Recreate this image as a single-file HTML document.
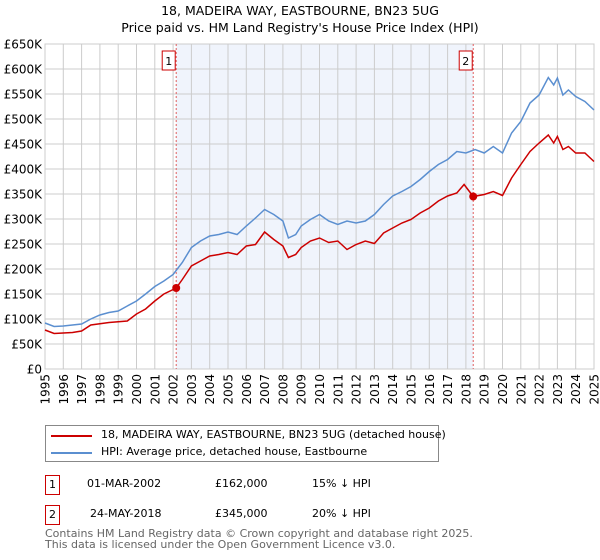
<!DOCTYPE html>
<html><head><meta charset="utf-8"><style>
body{margin:0;background:#fff;font-family:"DejaVu Sans","Liberation Sans",sans-serif;}
#wrap{position:relative;width:600px;height:560px;overflow:hidden;}
.t{position:absolute;white-space:nowrap;color:#000;}
</style></head><body>
<div id="wrap">
<svg id="chart" width="600" height="420" style="position:absolute;left:0;top:0">
<text x="300" y="15" text-anchor="middle" font-size="12.5">18, MADEIRA WAY, EASTBOURNE, BN23 5UG</text>
<text x="300" y="32" text-anchor="middle" font-size="12.5">Price paid vs. HM Land Registry's House Price Index (HPI)</text>
<g id="grid"></g><g id="series"></g><g id="axes"></g>
</svg>
<div class="t" style="left:45px;top:425px;width:392px;height:35px;border:1px solid #888;">
<div style="position:absolute;left:5px;top:9px;width:41px;height:2px;background:#cc0000"></div>
<div class="t" style="left:55px;top:2px;font-size:11px">18, MADEIRA WAY, EASTBOURNE, BN23 5UG (detached house)</div>
<div style="position:absolute;left:5px;top:26px;width:41px;height:2px;background:#5b8fd0"></div>
<div class="t" style="left:55px;top:19px;font-size:11px">HPI: Average price, detached house, Eastbourne</div>
</div>
<div class="t" style="left:45px;top:475px;width:13px;height:18px;border:1px solid #cc0000;font-size:11px;text-align:center;line-height:18px">1</div>
<div class="t" style="left:87px;top:477px;font-size:11px">01-MAR-2002</div>
<div class="t" style="left:215px;top:477px;font-size:11px">£162,000</div>
<div class="t" style="left:312px;top:477px;font-size:11px">15% ↓ HPI</div>
<div class="t" style="left:45px;top:505px;width:13px;height:18px;border:1px solid #cc0000;font-size:11px;text-align:center;line-height:18px">2</div>
<div class="t" style="left:90px;top:507px;font-size:11px">24-MAY-2018</div>
<div class="t" style="left:215px;top:507px;font-size:11px">£345,000</div>
<div class="t" style="left:312px;top:507px;font-size:11px">20% ↓ HPI</div>
<div class="t" style="left:45px;top:529px;font-size:11px;color:#666;line-height:10.5px">Contains HM Land Registry data © Crown copyright and database right 2025.<br>This data is licensed under the Open Government Licence v3.0.</div>
</div>
<script>
const hpiYears=[1995,1995.5,1996,1997,1997.5,1998,1998.5,1999,1999.5,2000,2000.5,2001,2001.5,2002,2002.5,2003,2003.5,2004,2004.5,2005,2005.5,2006,2006.5,2007,2007.5,2008,2008.3,2008.7,2009,2009.5,2010,2010.5,2011,2011.5,2012,2012.5,2013,2013.5,2014,2014.5,2015,2015.5,2016,2016.5,2017,2017.5,2018,2018.5,2019,2019.5,2020,2020.5,2021,2021.5,2022,2022.5,2022.8,2023,2023.3,2023.6,2024,2024.5,2025];
const hpiValues=[92,85,86,90,100,108,113,116,126,136,150,165,176,189,213,243,256,266,269,274,269,286,302,319,309,296,262,269,286,299,309,296,289,296,292,296,309,329,346,355,365,379,395,409,419,435,432,439,432,445,432,472,495,532,548,583,568,582,548,558,545,535,518];
const propYears=[1995,1995.5,1996.5,1997,1997.5,1998.5,1999.5,2000,2000.5,2001,2001.5,2002.17,2002.5,2003,2003.5,2004,2004.5,2005,2005.5,2006,2006.5,2007,2007.5,2008,2008.3,2008.7,2009,2009.5,2010,2010.5,2011,2011.5,2012,2012.5,2013,2013.5,2014,2014.5,2015,2015.5,2016,2016.5,2017,2017.5,2017.9,2018.4,2019,2019.5,2020,2020.5,2021,2021.5,2022,2022.5,2022.8,2023,2023.3,2023.6,2024,2024.5,2025];
const propValues=[78,71,73,76,88,93,96,110,120,136,150,162,179,206,216,226,229,233,229,246,249,274,259,246,223,229,243,256,262,253,256,239,249,256,251,272,282,292,299,312,322,336,346,352,369,345,349,355,347,382,409,435,452,468,452,465,439,445,432,432,415];
const saleYears=[2002.17,2018.4];
const saleValues=[162,345];
const saleLabels=["1","2"];
const yTicks=[0,50,100,150,200,250,300,350,400,450,500,550,600,650];
const xTicks=[1995,1996,1997,1998,1999,2000,2001,2002,2003,2004,2005,2006,2007,2008,2009,2010,2011,2012,2013,2014,2015,2016,2017,2018,2019,2020,2021,2022,2023,2024,2025];

const X0=45,X1=594,Y0=369,Y1=44;
const x=v=>X0+(v-1995)/30*(X1-X0);
const y=v=>Y0-v/650*(Y0-Y1);
const NS="http://www.w3.org/2000/svg";
function mk(tag,attrs,parent){const e=document.createElementNS(NS,tag);for(const k in attrs)e.setAttribute(k,attrs[k]);parent.appendChild(e);return e;}
const grid=document.getElementById('grid'),ser=document.getElementById('series'),ax=document.getElementById('axes');
const shade=mk('rect',{x:x(saleYears[0]),y:Y1,width:x(saleYears[1])-x(saleYears[0]),height:Y0-Y1,fill:'#f0f4fc'},grid);


yTicks.forEach(t=>{
 const l=mk('line',{x1:X0,x2:X1,y1:y(t),y2:y(t),stroke:'#cccccc','stroke-width':1},grid);
 
 
 const tx=mk('text',{x:X0-3,y:y(t)+4.5,'text-anchor':'end','font-size':12},ax);
 tx.textContent=t===0?'£0':'£'+t+'K';
 
 
});
xTicks.forEach(t=>{
 const l=mk('line',{x1:x(t),x2:x(t),y1:Y1,y2:Y0,stroke:'#cccccc','stroke-width':1},grid);
 
 
 const px=x(t)+4.5;
 const tx=mk('text',{x:px,y:374,'text-anchor':'end','font-size':12,transform:'rotate(-90 '+px+' 374)'},ax);
 tx.textContent=t;
 
 
});
const fr=mk('rect',{x:X0,y:Y1,width:X1-X0,height:Y0-Y1,fill:'none',stroke:'#cccccc'},grid);


saleYears.forEach((s,i)=>{
 const l=mk('line',{x1:x(s),x2:x(s),y1:Y1,y2:Y0,stroke:'#e06060','stroke-width':1,'stroke-dasharray':'2,2'},ser);
 
 
});
function path(xs,vs,col,name){
 const d=xs.map((t,i)=>(i?'L':'M')+x(t).toFixed(1)+','+y(vs[i]).toFixed(1)).join('');
 const p=mk('path',{d:d,fill:'none',stroke:col,'stroke-width':1.5},ser);
 
 
}
path(hpiYears,hpiValues,'#5b8fd0','hpi-line');
path(propYears,propValues,'#cc0000','property-price-line');
saleYears.forEach((s,i)=>{
 const c=mk('circle',{cx:x(s),cy:y(saleValues[i]),r:4,fill:'#cc0000'},ser);
 
 
 const bx=x(s)-7;
 const r=mk('rect',{x:bx-7,y:51,width:13,height:19,fill:'#fff',stroke:'#cc0000'},ser);
 
 
 const tx=mk('text',{x:bx-0.5,y:65,'text-anchor':'middle','font-size':11},ser);
 tx.textContent=saleLabels[i];
 
 
});
</script>
</body></html>
